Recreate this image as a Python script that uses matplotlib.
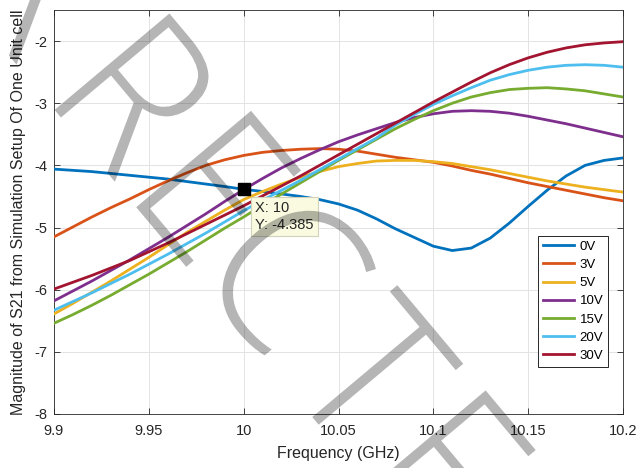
import matplotlib
matplotlib.use("Agg")
import matplotlib.pyplot as plt
from matplotlib.font_manager import FontProperties, findfont
from matplotlib.patches import PathPatch
from matplotlib.textpath import TextPath
from matplotlib.transforms import Affine2D, IdentityTransform

plt.rcParams["font.family"] = ["Liberation Sans", "DejaVu Sans"]
plt.rcParams["axes.unicode_minus"] = False

# S21 magnitude of one unit cell vs frequency, one curve per bias voltage
freq = [9.90, 9.91, 9.92, 9.93, 9.94, 9.95, 9.96, 9.97, 9.98, 9.99,
        10.00, 10.01, 10.02, 10.03, 10.04, 10.05, 10.06, 10.07, 10.08, 10.09,
        10.10, 10.11, 10.12, 10.13, 10.14, 10.15, 10.16, 10.17, 10.18, 10.19,
        10.20]

s21_0v = [-4.06, -4.08, -4.10, -4.13, -4.16, -4.19, -4.22, -4.26, -4.30, -4.34,
          -4.385, -4.42, -4.46, -4.50, -4.55, -4.62, -4.72, -4.86, -5.02, -5.16,
          -5.30, -5.37, -5.33, -5.17, -4.93, -4.66, -4.40, -4.17, -4.00, -3.92,
          -3.88]
s21_3v = [-5.15, -4.99, -4.83, -4.68, -4.54, -4.39, -4.25, -4.12, -4.00, -3.91,
          -3.84, -3.79, -3.76, -3.74, -3.73, -3.74, -3.77, -3.82, -3.87, -3.91,
          -3.95, -4.01, -4.08, -4.14, -4.21, -4.28, -4.34, -4.40, -4.46, -4.52,
          -4.57]
s21_5v = [-6.39, -6.22, -6.04, -5.86, -5.67, -5.48, -5.28, -5.08, -4.90, -4.72,
          -4.55, -4.42, -4.30, -4.19, -4.10, -4.02, -3.97, -3.93, -3.92, -3.92,
          -3.94, -3.97, -4.02, -4.07, -4.13, -4.19, -4.25, -4.30, -4.35, -4.39,
          -4.43]
s21_10v = [-6.18, -6.02, -5.86, -5.69, -5.52, -5.34, -5.16, -4.97, -4.78, -4.58,
           -4.39, -4.21, -4.04, -3.89, -3.75, -3.62, -3.51, -3.41, -3.31, -3.23,
           -3.17, -3.13, -3.12, -3.13, -3.16, -3.21, -3.27, -3.33, -3.40, -3.47,
           -3.54]
s21_15v = [-6.54, -6.40, -6.25, -6.09, -5.92, -5.75, -5.57, -5.39, -5.20, -5.01,
           -4.83, -4.64, -4.46, -4.28, -4.10, -3.92, -3.75, -3.58, -3.41, -3.26,
           -3.12, -3.00, -2.90, -2.83, -2.78, -2.76, -2.75, -2.77, -2.80, -2.85,
           -2.90]
s21_20v = [-6.33, -6.19, -6.05, -5.90, -5.75, -5.59, -5.43, -5.26, -5.09, -4.91,
           -4.73, -4.56, -4.40, -4.24, -4.07, -3.90, -3.73, -3.56, -3.35, -3.18,
           -3.02, -2.88, -2.75, -2.63, -2.54, -2.47, -2.42, -2.39, -2.38, -2.39,
           -2.42]
s21_30v = [-5.99, -5.88, -5.77, -5.65, -5.53, -5.39, -5.25, -5.10, -4.95, -4.80,
           -4.65, -4.49, -4.33, -4.17, -4.00, -3.83, -3.66, -3.49, -3.32, -3.15,
           -2.98, -2.82, -2.66, -2.51, -2.38, -2.27, -2.18, -2.11, -2.06, -2.03,
           -2.01]

labels = ["0V", "3V", "5V", "10V", "15V", "20V", "30V"]
series = [s21_0v, s21_3v, s21_5v, s21_10v, s21_15v, s21_20v, s21_30v]
colors = ["#0072BD", "#D95319", "#EDB120", "#7E2F8E", "#77AC30", "#4DBEEE", "#A2142F"]

xticks = [9.9, 9.95, 10.0, 10.05, 10.1, 10.15, 10.2]
xticklabels = ["9.9", "9.95", "10", "10.05", "10.1", "10.15", "10.2"]
yticks = [-8, -7, -6, -5, -4, -3, -2]
yticklabels = ["-8", "-7", "-6", "-5", "-4", "-3", "-2"]

tip_x = 10.0
tip_y = -4.385

stamp_word = "CORRECTED"

fig = plt.figure(figsize=(6.37, 4.68), dpi=100)
ax = fig.add_axes([54 / 637, 1 - 414 / 468, 569 / 637, 404 / 468])

for y, lab, c in zip(series, labels, colors):
    ax.plot(freq, y, color=c, lw=2.0, label=lab, zorder=3)

ax.set_xlim(9.9, 10.2)
ax.set_ylim(-8, -1.5)
ax.set_xticks(xticks)
ax.set_xticklabels(xticklabels)
ax.set_yticks(yticks)
ax.set_yticklabels(yticklabels)

ink = "#262626"
ax.tick_params(direction="in", length=4, width=0.6, colors=ink, labelsize=10.5,
               top=True, right=True)
ax.tick_params(axis="x", pad=7)
ax.tick_params(axis="y", pad=5)
for sp in ax.spines.values():
    sp.set_color(ink)
    sp.set_linewidth(0.6)
ax.grid(True, color="#e3e3e3", lw=0.7)
ax.set_axisbelow(True)

ax.set_xlabel("Frequency (GHz)", fontsize=11.5, color=ink, labelpad=6)
ax.set_ylabel("Magnitude of S21 from Simulation Setup Of One Unit cell",
              fontsize=11.5, color=ink, labelpad=6)

leg = ax.legend(loc="upper right", bbox_to_anchor=(0.9736, 0.4406), borderaxespad=0,
                fontsize=9.5, handlelength=2.4, handletextpad=0.4, labelspacing=0.45,
                borderpad=0.35, fancybox=False, framealpha=1, edgecolor=ink)
leg.get_frame().set_linewidth(0.7)
leg.set_zorder(5)

# data tip on the 0V curve
ax.plot([tip_x], [tip_y], "s", color="black", ms=8, zorder=6)
ax.annotate(f"X: {tip_x:g}\nY: {tip_y:g}", xy=(tip_x, tip_y), xytext=(8.5, -8.5),
            textcoords="offset points", ha="left", va="top", fontsize=10.5,
            color=ink, linespacing=1.25, zorder=7,
            bbox=dict(boxstyle="square,pad=0.3", fc="#fafae1", ec="#d2d2bc", lw=0.8))

# diagonal stamp across the whole figure, laid out letter by letter in pixels;
# prefer a light sans face for the thin strokes, else fall back to Liberation Sans
stamp_font, stamp_xscale = FontProperties(family="Liberation Sans"), 0.9
for fam in ["Roboto", "Open Sans", "Lato"]:
    fp = FontProperties(family=fam, weight="light")
    if "light" in findfont(fp, fallback_to_default=False).lower():
        stamp_font, stamp_xscale = fp, 0.95
        break

letter_centres = [-475, -340, -225, -72, 47, 157, 287, 412, 530]
for ch, u in zip(stamp_word, letter_centres):
    glyph = TextPath((0, 0), ch, size=210, prop=stamp_font)
    ext = glyph.get_extents()
    tr = (Affine2D().translate(-(ext.x0 + ext.x1) / 2, 0).scale(stamp_xscale, 1.0)
          .translate(u, 0).rotate_deg(-50).translate(131, 267))
    fig.add_artist(PathPatch(tr.transform_path(glyph), transform=IdentityTransform(),
                             fc="black", ec="none", alpha=0.29, zorder=20))

fig.savefig("out.png", dpi=100)
